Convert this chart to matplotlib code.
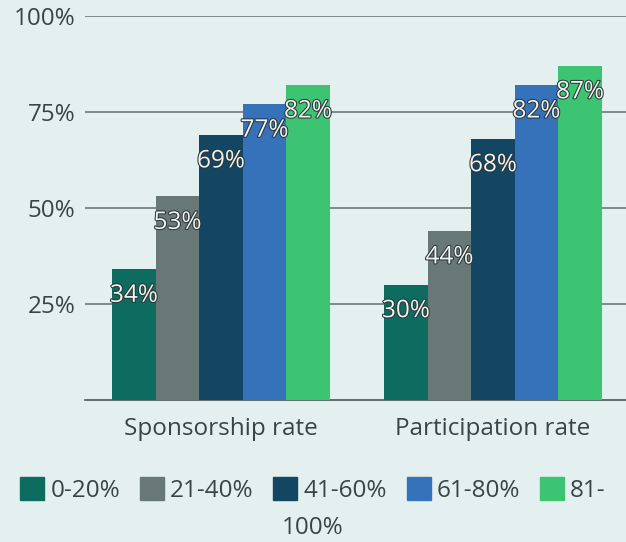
import matplotlib
matplotlib.use("Agg")
from matplotlib import pyplot as plt
from matplotlib import patheffects as pe
from matplotlib.patches import Patch
import numpy as np

categories = ["Sponsorship rate", "Participation rate"]
groups = ["0-20%", "21-40%", "41-60%", "61-80%", "81-100%"]
values = [
    [34, 30],
    [53, 44],
    [69, 68],
    [77, 82],
    [82, 87],
]
colors = ["#0e6b5f", "#687876", "#124663", "#3672b9", "#3dc472"]
yticks = [25, 50, 75, 100]
ytick_labels = ["25%", "50%", "75%", "100%"]

bg = "#e4f0f0"
text_col = "#3a4444"
fs = 17.5
plt.rcParams["font.family"] = ["Open Sans", "DejaVu Sans"]

fig = plt.figure(figsize=(6.26, 5.42), dpi=100, facecolor=bg)
ax = fig.add_axes([85 / 626, 1 - 400 / 542, 541 / 626, 384 / 542])
ax.set_facecolor(bg)

x = np.arange(len(categories))
w = 0.16
for i, (g, vals, c) in enumerate(zip(groups, values, colors)):
    xs = x + (i - 2) * w
    ax.bar(xs, vals, width=w, color=c, zorder=3, label=g)
    for xi, v in zip(xs, vals):
        ax.annotate(f"{v}%", (xi, v), xytext=(0, -19), textcoords="offset points",
                    ha="center", va="center", fontsize=fs, color="#eef4f4", zorder=5,
                    path_effects=[pe.withStroke(linewidth=1.5, foreground="#2e3636")])

ax.set_xlim(-0.5, 1.489)
ax.set_ylim(0, 100)
ax.set_yticks(yticks)
ax.set_yticklabels(ytick_labels)
ax.set_xticks(x)
ax.set_xticklabels(categories)
ax.tick_params(axis="both", length=0, labelsize=fs, colors=text_col)
ax.tick_params(axis="y", pad=7)
ax.tick_params(axis="x", pad=12)
ax.yaxis.grid(True, color="#6d7a7a", linewidth=1.2, zorder=0)
for s in ["top", "right", "left"]:
    ax.spines[s].set_visible(False)
ax.spines["bottom"].set_color("#4a5555")
ax.spines["bottom"].set_linewidth(1.2)

handles = [Patch(color=c) for c in colors]
leg_labels = groups[:4] + ["81-"]
fig.legend(handles, leg_labels, ncol=5, loc="center", bbox_to_anchor=(0.5, 1 - 490 / 542),
           frameon=False, fontsize=fs, handlelength=1.0, handleheight=1.1,
           handletextpad=0.25, columnspacing=0.8, labelcolor=text_col)
fig.text(0.5, 1 - 528 / 542, "100%", ha="center", va="center", fontsize=fs, color=text_col)

fig.savefig("out.png", dpi=100, facecolor=bg)
